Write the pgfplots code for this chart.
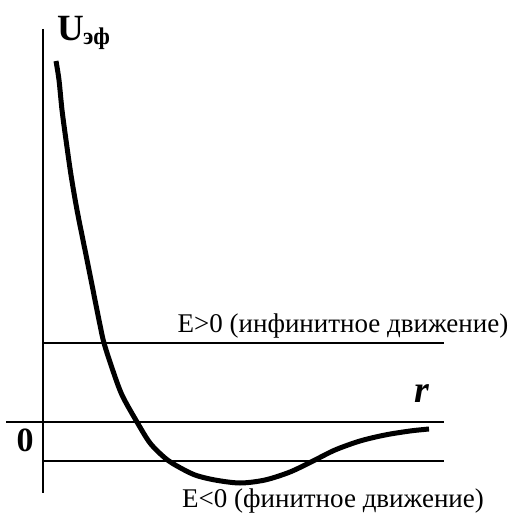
\documentclass[border=0pt]{standalone}
\usepackage{pgfplots}
\pgfplotsset{compat=1.18}
\usepackage{fontspec}
\setmainfont{Liberation Serif}
\begin{document}
\begin{tikzpicture}
\begin{axis}[
  width=512bp, height=515bp, scale only axis,
  xmin=0, xmax=512, ymin=0, ymax=515,
  hide axis, clip=false,
]
% vertical axis
\addplot[black, line width=2.7bp] coordinates {(43,486) (43,22)};
% r axis
\addplot[black, line width=2.7bp] coordinates {(6,93) (444,93)};
% E>0 level
\addplot[black, line width=1.8bp] coordinates {(43,172) (444,172)};
% E<0 level
\addplot[black, line width=1.8bp] coordinates {(43,54) (444,54)};
% effective potential
\addplot[black, line width=5bp, smooth, tension=0.5] coordinates {
(56,454) (59,435) (62,405) (66,375) (71,340) (77,305) (85,265) (93,225)
(100,190) (104,172) (112,147) (122,120) (137,93) (150,72) (165,57)
(177,49) (195,40) (215,35) (240,32) (265,35) (290,43) (313,54)
(335,65) (360,74) (385,80) (410,84) (429,86)};
\node[anchor=base west, font=\fontsize{37bp}{40bp}\selectfont\bfseries, inner sep=0pt] at (axis cs:57,474) {U};
\node[anchor=base west, font=\fontsize{24bp}{26bp}\selectfont\bfseries, inner sep=0pt] at (axis cs:83,470) {эф};
\node[anchor=base, font=\fontsize{38bp}{40bp}\selectfont\bfseries\itshape, inner sep=0pt] at (axis cs:422,112) {r};
\node[anchor=base, font=\fontsize{34bp}{36bp}\selectfont\bfseries, inner sep=0pt] at (axis cs:25,63) {0};
\node[anchor=base, font=\fontsize{27bp}{29bp}\selectfont, inner sep=0pt] at (axis cs:343,182) {E>0 (инфинитное движение)};
\node[anchor=base, font=\fontsize{27bp}{29bp}\selectfont, inner sep=0pt] at (axis cs:333,8) {E<0 (финитное движение)};
\end{axis}
\pgfresetboundingbox
\useasboundingbox (0,0) rectangle (512bp,515bp);
\end{tikzpicture}
\end{document}
